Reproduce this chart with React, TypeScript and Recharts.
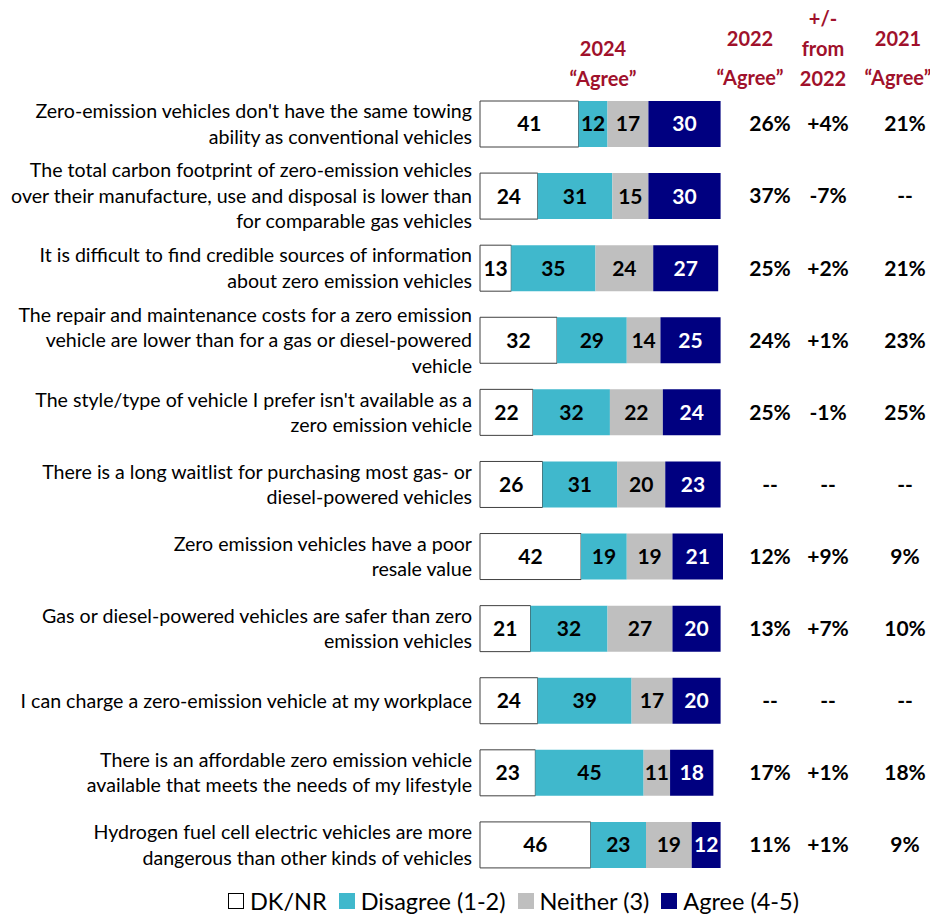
import React from 'react';
import { BarChart, Bar, XAxis, YAxis, LabelList, Legend } from 'recharts';

const statements = [
  "Zero-emission vehicles don't have the same towing\nability as conventional vehicles",
  'The total carbon footprint of zero-emission vehicles\nover their manufacture, use and disposal is lower than\nfor comparable gas vehicles',
  'It is difficult to find credible sources of information\nabout zero emission vehicles',
  'The repair and maintenance costs for a zero emission\nvehicle are lower than for a gas or diesel-powered\nvehicle',
  "The style/type of vehicle I prefer isn't available as a\nzero emission vehicle",
  'There is a long waitlist for purchasing most gas- or\ndiesel-powered vehicles',
  'Zero emission vehicles have a poor\nresale value',
  'Gas or diesel-powered vehicles are safer than zero\nemission vehicles',
  'I can charge a zero-emission vehicle at my workplace',
  'There is an affordable zero emission vehicle\navailable that meets the needs of my lifestyle',
  'Hydrogen fuel cell electric vehicles are more\ndangerous than other kinds of vehicles',
];

const dkNr = [41, 24, 13, 32, 22, 26, 42, 21, 24, 23, 46];
const disagree = [12, 31, 35, 29, 32, 31, 19, 32, 39, 45, 23];
const neither = [17, 15, 24, 14, 22, 20, 19, 27, 17, 11, 19];
const agree = [30, 30, 27, 25, 24, 23, 21, 20, 20, 18, 12];

const agree2022 = ['26%', '37%', '25%', '24%', '25%', '--', '12%', '13%', '--', '17%', '11%'];
const change2022 = ['+4%', '-7%', '+2%', '+1%', '-1%', '--', '+9%', '+7%', '--', '+1%', '+1%'];
const agree2021 = ['21%', '--', '21%', '23%', '25%', '--', '9%', '10%', '--', '18%', '9%'];

const series = [
  { key: 'dkNr', name: 'DK/NR', fill: '#ffffff', text: '#000' },
  { key: 'disagree', name: 'Disagree (1-2)', fill: '#40b8cc', text: '#000' },
  { key: 'neither', name: 'Neither (3)', fill: '#bfbfbf', text: '#000' },
  { key: 'agree', name: 'Agree (4-5)', fill: '#000080', text: '#fff' },
];

const data = statements.map((name, i) => ({
  name,
  dkNr: dkNr[i],
  disagree: disagree[i],
  neither: neither[i],
  agree: agree[i],
}));

const FONT = 'Lato, "Open Sans", sans-serif';
const HEAD = '#a0112b';

const StatementTick = ({ x, y, payload }: any) => {
  const lines = String(payload.value).split('\n');
  const lh = 25.5;
  const start = y - ((lines.length - 1) * lh) / 2;
  return (
    <text x={x} y={start} textAnchor="end" fontSize={19.6} fill="#000" fontFamily={FONT}>
      {lines.map((l, i) => (
        <tspan key={i} x={x} y={start + i * lh} dy="0.35em">
          {l}
        </tspan>
      ))}
    </text>
  );
};

const CompareTick = ({ x, y, payload }: any) => {
  const i = payload.index;
  const cols = [
    { dx: 47, v: agree2022[i] },
    { dx: 105, v: change2022[i] },
    { dx: 182, v: agree2021[i] },
  ];
  return (
    <g>
      {cols.map((c, k) => (
        <text key={k} x={x + c.dx} y={y} dy="0.35em" textAnchor="middle" fontSize={21} fontWeight="bold" fill="#000" fontFamily={FONT}>
          {c.v}
        </text>
      ))}
    </g>
  );
};

const LegendContent = () => (
  <div style={{ display: 'flex', alignItems: 'center', fontFamily: FONT, fontSize: 23.5, color: '#000', lineHeight: '26px' }}>
    {series.map((s) => (
      <div key={s.key} style={{ display: 'flex', alignItems: 'center', marginRight: 12 }}>
        <span
          style={{
            display: 'inline-block',
            boxSizing: 'border-box',
            width: 16,
            height: 16,
            background: s.fill,
            border: `1px solid ${s.fill === '#ffffff' ? '#000' : s.fill}`,
            marginRight: 6,
          }}
        />
        {s.name}
      </div>
    ))}
  </div>
);

export default function App() {
  return (
    <div style={{ position: 'relative', width: 922, height: 906 }}>
      <div style={{ position: 'absolute', left: 0, top: 0, width: 922, height: 90, fontFamily: FONT, fontWeight: 'bold', fontSize: 20, color: HEAD, lineHeight: '30px' }}>
        <div style={{ position: 'absolute', left: 535, width: 120, top: 25, textAlign: 'center' }}>2024<br />“Agree”</div>
        <div style={{ position: 'absolute', left: 682, width: 120, top: 15, textAlign: 'center' }}>2022</div>
        <div style={{ position: 'absolute', left: 682, width: 120, top: 54, textAlign: 'center' }}>“Agree”</div>
        <div style={{ position: 'absolute', left: 760, width: 110, top: -5, textAlign: 'center' }}>+/-<br />from<br />2022</div>
        <div style={{ position: 'absolute', left: 830, width: 120, top: 15, textAlign: 'center' }}>2021</div>
        <div style={{ position: 'absolute', left: 830, width: 120, top: 54, textAlign: 'center' }}>“Agree”</div>
      </div>
      <BarChart
        width={922}
        height={906}
        data={data}
        layout="vertical"
        margin={{ top: 80, right: 0, bottom: 7, left: 0 }}
        barSize={46}
      >
        <XAxis type="number" domain={[0, 100]} hide />
        <YAxis
          yAxisId="left"
          type="category"
          dataKey="name"
          width={472}
          axisLine={false}
          tickLine={false}
          tickSize={0}
          tickMargin={8}
          interval={0}
          tick={<StatementTick />}
        />
        <YAxis
          yAxisId="right"
          orientation="right"
          type="category"
          dataKey="name"
          width={207}
          axisLine={false}
          tickLine={false}
          tickSize={0}
          tickMargin={0}
          interval={0}
          tick={<CompareTick />}
        />
        <Legend
          verticalAlign="bottom"
          content={<LegendContent />}
          wrapperStyle={{ left: 220, width: 'auto', bottom: 0 }}
        />
        {series.map((s) => (
          <Bar
            key={s.key}
            yAxisId="left"
            dataKey={s.key}
            name={s.name}
            stackId="a"
            fill={s.fill}
            stroke={s.key === 'dkNr' ? '#404040' : undefined}
            strokeWidth={s.key === 'dkNr' ? 1 : 0}
            isAnimationActive={false}
          >
            <LabelList dataKey={s.key} position="center" fill={s.text} fontSize={21} fontWeight="bold" fontFamily={FONT} />
          </Bar>
        ))}
      </BarChart>
    </div>
  );
}
